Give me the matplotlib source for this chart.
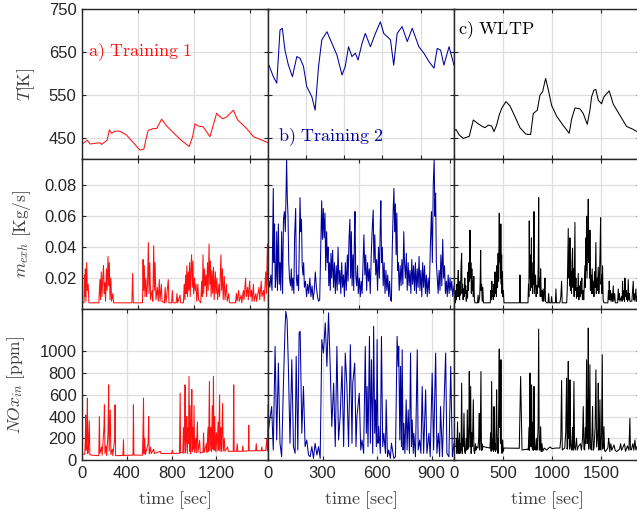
import numpy as np
import matplotlib
matplotlib.use('Agg')
import matplotlib.pyplot as plt

plt.rcParams['font.family'] = ['Liberation Sans', 'DejaVu Sans']
plt.rcParams['mathtext.fontset'] = 'cm'

# ---- exhaust temperature T [K], (time [s], value) ----
temp_train1 = [(0,435),(48,444),(71,435),(160,438),(175,434),(225,444),(244,468),(264,460),(294,465),
               (337,465),(397,456),(517,421),(552,423),(576,452),(591,467),(636,471),(666,471),(711,493),
               (755,477),(875,446),(957,429),(987,452),(1008,482),(1038,477),(1082,475),(1142,452),
               (1202,507),(1217,502),(1256,494),(1291,498),(1351,514),(1387,492),(1470,471),(1530,452),
               (1588,446),(1660,438)]
temp_train2 = [(0,612),(5,619),(28,592),(46,577),(63,701),(75,705),(89,654),(107,619),(128,592),(151,639),
               (168,635),(186,616),(203,569),(230,545),(247,514),(265,616),(282,678),(309,697),(335,670),
               (361,643),(388,596),(405,616),(422,662),(440,639),(458,647),(472,631),(493,670),(510,693),
               (537,662),(563,693),(589,720),(607,693),(642,678),(659,619),(677,693),(703,709),(730,674),
               (756,705),(791,662),(817,647),(844,627),(870,612),(887,658),(905,654),(922,619),(949,662),
               (975,619)]
temp_wltp = [(0,465),(20,469),(54,456),(95,448),(156,453),(197,491),(248,482),(282,477),(316,473),(350,479),
             (384,477),(408,464),(435,479),(462,503),(486,518),(530,534),(571,524),(622,499),(673,473),
             (734,458),(782,457),(809,506),(850,514),(877,549),(904,557),(935,588),(962,562),(996,525),
             (1047,500),(1115,478),(1176,460),(1200,493),(1234,519),(1285,517),(1319,506),(1360,481),
             (1387,514),(1404,545),(1428,561),(1448,562),(1472,537),(1506,529),(1530,545),(1584,559),
             (1625,528),(1693,502),(1761,476),(1829,469),(1867,464)]

# ---- exhaust mass flow m_exh [kg/s] ----
mexh_train1 = [(0,.004),(18,.004),(22,.022),(26,.008),(30,.026),(35,.005),(42,.030),(48,.012),(55,.016),(62,.004),
               (150,.004),(155,.012),(160,.019),(165,.006),(172,.024),(178,.008),(186,.021),(192,.028),(198,.010),
               (204,.017),(210,.005),(218,.026),(224,.012),(232,.034),(238,.015),(244,.030),(250,.006),(258,.020),
               (264,.005),(275,.010),(282,.004),(445,.004),(452,.023),(458,.004),
               (540,.004),(545,.032),(550,.012),(556,.028),(562,.008),(570,.020),(576,.008),(585,.016),(592,.043),
               (598,.010),(605,.030),(612,.006),(625,.012),(632,.005),(640,.041),(646,.012),(652,.030),(660,.006),
               (672,.014),(680,.005),(690,.019),(696,.005),(708,.016),(714,.005),
               (735,.004),(742,.014),(750,.004),(770,.019),(776,.004),(800,.004),(806,.012),(812,.004),(840,.004),
               (848,.010),(854,.004),(875,.009),(880,.004),
               (905,.004),(912,.016),(918,.006),(925,.022),(930,.010),(936,.028),(942,.008),(948,.024),(954,.012),
               (960,.030),(966,.008),(972,.026),(978,.035),(984,.014),(990,.031),(996,.010),(1004,.020),(1010,.012),
               (1018,.016),(1024,.005),(1034,.016),(1040,.006),
               (1060,.004),(1068,.018),(1074,.008),(1080,.035),(1086,.010),(1092,.026),(1098,.015),(1106,.022),
               (1112,.008),(1120,.030),(1126,.012),(1134,.042),(1140,.016),(1146,.031),(1152,.008),(1160,.025),
               (1166,.010),(1174,.027),(1180,.006),(1190,.024),(1196,.010),(1204,.020),(1210,.006),(1222,.016),
               (1228,.008),(1240,.035),(1246,.012),(1254,.026),(1260,.006),(1270,.021),(1276,.006),(1290,.016),
               (1296,.005),(1310,.010),(1316,.004),
               (1370,.004),(1378,.010),(1384,.005),(1398,.012),(1404,.005),(1420,.009),(1426,.004),(1440,.012),
               (1446,.006),(1460,.020),(1466,.008),(1478,.014),(1484,.006),(1496,.018),(1502,.008),(1512,.012),
               (1518,.005),(1530,.016),(1536,.005),(1552,.010),(1558,.005),(1580,.014),(1586,.006),(1600,.018),
               (1606,.008),(1620,.012),(1626,.005),(1640,.024),(1646,.010),(1655,.042),(1660,.015)]
mexh_train2 = [(0,.020),(5,.018),(10,.014),(16,.022),(22,.012),(25,.040),(29,.078),(33,.030),(36,.055),(40,.014),
               (44,.020),(48,.050),(52,.012),(57,.055),(62,.016),(66,.030),(70,.012),(75,.050),(80,.010),(85,.058),
               (90,.063),(95,.050),(100,.080),(102,.097),(106,.072),(110,.060),(114,.030),(118,.020),(124,.015),
               (128,.026),(132,.012),(136,.020),(142,.010),(146,.046),(152,.065),(156,.020),(160,.015),(164,.022),
               (168,.012),(172,.040),(176,.072),(180,.050),(184,.058),(188,.028),(192,.022),(196,.030),(200,.014),
               (206,.018),(212,.008),(218,.016),(224,.010),(230,.020),(236,.008),(242,.015),(248,.006),(254,.012),
               (260,.024),(266,.014),(272,.008),(278,.005),(284,.006),
               (290,.040),(295,.070),(299,.045),(304,.065),(308,.046),(313,.062),(317,.025),(322,.050),(326,.030),
               (330,.040),(334,.015),(338,.030),(342,.012),(346,.036),(350,.020),(355,.038),(360,.014),(365,.030),
               (370,.010),(375,.028),(380,.012),(385,.040),(390,.016),(395,.025),(400,.010),(405,.030),(410,.014),
               (415,.022),(420,.008),(425,.030),(430,.012),(436,.035),(440,.018),(445,.045),(450,.058),(454,.020),
               (458,.050),(462,.015),(467,.035),(471,.012),(475,.048),(478,.063),(482,.022),(487,.015),(492,.028),
               (496,.010),(502,.020),(507,.008),(512,.018),(517,.010),(522,.030),(527,.048),(532,.022),(537,.035),
               (542,.012),(547,.030),(552,.018),(557,.026),(562,.010),(567,.034),(572,.050),(578,.064),(582,.030),
               (587,.048),(592,.022),(597,.032),(602,.012),(607,.040),(612,.020),(617,.055),(620,.070),(624,.030),
               (628,.040),(633,.015),(638,.030),(643,.010),(648,.025),(653,.012),(658,.022),(663,.008),(668,.018),
               (673,.006),(678,.005),(683,.040),(688,.065),(692,.078),(696,.050),(700,.068),(704,.035),(708,.062),
               (712,.025),(716,.030),(721,.012),(726,.028),(731,.015),(736,.032),(741,.016),(746,.050),(750,.030),
               (755,.020),(760,.036),(765,.012),(770,.030),(775,.015),(780,.025),(785,.010),(790,.032),(795,.016),
               (800,.028),(805,.012),(810,.030),(815,.010),(820,.026),(825,.014),(830,.034),(835,.012),(840,.025),
               (845,.008),(850,.030),(855,.014),(860,.028),(865,.010),(870,.022),(875,.008),(880,.020),(886,.010),
               (892,.040),(898,.063),(903,.030),(908,.080),(913,.097),(917,.060),(921,.075),(925,.030),(930,.020),
               (935,.010),(940,.025),(945,.012),(950,.035),(955,.015),(960,.045),(965,.020),(970,.028),(975,.010),
               (980,.018),(985,.008),(990,.022),(995,.010),(1000,.020),(1005,.012),(1010,.018),(1015,.008),
               (1022,.015)]
mexh_wltp = [(0,.004),(15,.004),(20,.012),(25,.006),(30,.016),(35,.008),(40,.020),(44,.025),(48,.008),(52,.014),
             (57,.006),(62,.018),(66,.009),(72,.028),(78,.036),(82,.010),(88,.016),(93,.006),(98,.013),(104,.008),
             (110,.020),(115,.010),(120,.015),(125,.005),(132,.012),(138,.007),(143,.024),(148,.012),(153,.030),
             (158,.018),(163,.051),(168,.020),(172,.030),(177,.010),(182,.026),(187,.012),(192,.018),(197,.008),
             (202,.021),(208,.006),(214,.004),(240,.004),(246,.009),(252,.004),(262,.008),(268,.020),(272,.038),
             (276,.012),(282,.016),(288,.005),(294,.014),(300,.004),
             (370,.004),(376,.012),(381,.006),(386,.018),(391,.008),(396,.012),(401,.006),(407,.016),(412,.008),
             (418,.024),(423,.010),(428,.016),(433,.008),(438,.028),(444,.014),(450,.036),(455,.018),(459,.044),
             (462,.062),(466,.030),(470,.050),(474,.020),(478,.055),(482,.016),(486,.035),(490,.010),(494,.024),
             (498,.008),(504,.012),(510,.004),(668,.004),(673,.022),(678,.004),
             (755,.004),(760,.016),(764,.008),(768,.057),(772,.020),(776,.035),(780,.012),(786,.025),(790,.046),
             (794,.014),(798,.022),(802,.010),(808,.030),(812,.016),(816,.063),(820,.010),(826,.016),(832,.022),
             (838,.008),(844,.015),(850,.010),(856,.018),(860,.030),(864,.072),(868,.014),(874,.020),(880,.008),
             (884,.026),(890,.008),(896,.012),(902,.005),(910,.013),(916,.005),(922,.010),(928,.020),(934,.005),
             (945,.004),(960,.004),(966,.010),(972,.004),(990,.004),(996,.008),(1002,.004),(1035,.004),(1040,.013),
             (1046,.004),(1080,.004),(1090,.008),(1098,.018),(1104,.004),
             (1150,.004),(1156,.013),(1160,.030),(1166,.052),(1170,.020),(1176,.035),(1180,.015),(1183,.046),
             (1188,.012),(1194,.024),(1199,.010),(1204,.030),(1210,.039),(1214,.014),(1220,.026),(1226,.008),
             (1230,.030),(1234,.056),(1238,.012),(1244,.020),(1250,.007),(1256,.014),(1262,.008),(1268,.023),
             (1274,.006),(1280,.015),(1286,.008),(1292,.018),(1298,.010),(1304,.020),(1310,.006),(1318,.012),
             (1324,.006),(1330,.018),(1336,.028),(1340,.014),(1346,.046),(1350,.025),(1353,.060),(1357,.020),
             (1362,.035),(1366,.048),(1370,.071),(1374,.030),(1380,.040),(1384,.020),(1387,.051),(1392,.012),
             (1398,.022),(1404,.010),(1410,.026),(1416,.010),(1422,.018),(1428,.008),(1434,.024),(1440,.014),
             (1448,.043),(1452,.010),(1458,.020),(1464,.012),(1472,.027),(1478,.010),(1484,.020),(1490,.036),
             (1496,.059),(1500,.016),(1506,.022),(1510,.010),(1516,.028),(1522,.006),(1530,.004),
             (1570,.004),(1576,.012),(1580,.006),(1584,.018),(1590,.006),(1596,.012),(1602,.005),(1610,.010),
             (1616,.005),(1625,.015),(1630,.005),(1640,.010),(1646,.004),(1670,.004),(1676,.013),(1682,.006),
             (1688,.010),(1693,.005),(1710,.008),(1716,.005),(1720,.018),(1726,.006),(1734,.012),(1740,.005),
             (1744,.020),(1750,.008),(1756,.012),(1761,.006),(1766,.010),(1772,.005),(1778,.019),(1784,.006),
             (1790,.010),(1795,.005),(1815,.005),(1822,.012),(1829,.018),(1834,.006),(1840,.010),(1846,.005),
             (1856,.013),(1862,.005),(1870,.008)]

# ---- engine-out NOx [ppm] ----
nox_train1 = [(0,55),(25,52),(30,200),(33,415),(37,90),(44,250),(48,570),(52,60),(58,150),(65,360),(70,50),(80,45),
              (150,40),(155,400),(160,60),(175,120),(180,45),(196,300),(200,508),(205,60),(214,130),(220,40),
              (232,250),(238,692),(242,80),(248,300),(252,460),(258,50),(270,100),(275,40),(292,200),(295,508),
              (300,40),(365,42),(370,185),(374,42),(455,45),(459,508),(463,45),
              (540,45),(545,300),(549,570),(553,60),(560,200),(565,50),(590,150),(595,400),(600,55),(612,120),
              (618,60),(640,100),(645,60),(700,80),(705,60),
              (800,60),(806,90),(812,60),(870,62),(876,615),(880,65),(900,70),(905,300),(910,60),(916,250),
              (920,692),(924,70),(930,200),(935,400),(940,60),(946,300),(950,150),(955,770),(960,80),(965,500),
              (970,60),(975,250),(980,650),(985,80),(990,300),(995,100),(1000,500),(1005,70),(1015,200),(1020,65),
              (1030,350),(1035,70),(1050,180),(1055,65),
              (1080,70),(1085,250),(1090,70),(1110,150),(1115,70),(1125,300),(1130,80),(1137,723),(1142,90),
              (1150,300),(1155,80),(1163,500),(1168,100),(1173,770),(1178,90),(1185,400),(1190,80),(1200,250),
              (1205,80),(1215,350),(1220,90),(1228,600),(1232,80),(1240,300),(1245,80),(1255,520),(1260,80),
              (1270,200),(1275,80),(1300,120),(1305,80),(1350,80),(1354,692),(1358,80),(1380,80),(1385,150),
              (1390,80),(1430,80),(1435,130),(1440,80),(1485,85),(1488,320),(1492,85),(1550,85),(1555,150),
              (1560,85),(1600,85),(1605,120),(1610,85),(1640,88),(1650,200),(1655,85),(1660,508)]
nox_train2 = [(0,250),(20,492),(29,92),(39,1046),(48,184),(57,892),(66,154),(75,30),(85,707),(94,1231),(98,1369),
              (105,1292),(112,862),(121,154),(131,923),(140,123),(149,61),(155,954),(164,92),(171,1169),(177,1185),
              (186,246),(195,677),(204,123),(213,184),(223,46),(232,30),(241,123),(250,15),(259,154),(269,46),
              (278,123),(287,15),(296,1108),(305,985),(315,1262),(324,862),(333,1354),(342,862),(351,307),
              (361,707),(370,123),(379,1046),(388,184),(397,400),(407,862),(416,123),(425,985),(434,677),
              (443,123),(453,1061),(462,154),(466,707),(477,892),(484,123),(489,400),(502,615),(510,92),(517,184),
              (526,61),(535,1046),(541,246),(545,677),(550,123),(558,1138),(563,154),(569,923),(576,61),(581,1231),
              (587,246),(591,554),(596,123),(600,1108),(605,154),(609,307),(618,61),(624,1138),(631,123),(637,246),
              (646,61),(650,554),(657,30),(664,92),(673,15),(679,154),(692,15),(701,30),(710,1138),(716,862),
              (719,1046),(725,184),(729,862),(734,123),(738,1015),(743,92),(747,338),(753,61),(760,554),(765,92),
              (771,461),(778,61),(784,985),(789,123),(793,369),(799,61),(802,246),(811,30),(821,1015),(826,92),
              (834,184),(841,61),(848,677),(856,61),(867,646),(874,61),(885,246),(892,30),(903,800),(911,92),
              (922,985),(929,61),(937,246),(944,30),(949,492),(959,30),(977,985),(984,61),(995,30),(1005,862),
              (1014,30),(1023,154)]
nox_wltp = [(0,130),(20,123),(25,200),(30,60),(36,350),(40,90),(44,184),(50,60),(56,250),(61,61),(68,150),(72,90),
            (78,708),(84,60),(90,200),(95,123),(102,430),(108,80),(116,61),(124,200),(130,90),(136,461),(141,100),
            (146,123),(151,300),(156,815),(162,120),(166,400),(170,677),(175,60),(180,250),(184,123),(190,200),
            (197,554),(203,90),(211,61),(218,150),(224,90),(231,123),(245,110),(252,200),(258,430),(262,92),
            (268,200),(275,815),(280,90),(285,150),(289,92),(294,130),(299,123),
            (367,110),(374,250),(379,80),(384,723),(390,92),(398,200),(403,80),(408,492),(413,92),(418,150),
            (424,80),(430,300),(435,646),(440,90),(445,200),(449,61),(455,400),(462,1022),(466,300),(469,554),
            (474,150),(479,923),(484,100),(490,61),(496,184),(502,80),(510,110),
            (666,108),(680,769),(694,92),(750,100),(758,92),(765,300),(770,90),(775,800),(780,200),(785,123),
            (792,692),(797,120),(802,92),(808,350),(812,90),(816,677),(822,100),(830,92),(840,200),(846,90),
            (850,123),(858,300),(864,1206),(870,92),(877,92),(884,307),(890,77),(898,150),(905,80),(920,110),
            (945,92),(979,120),(1000,105),(1040,110),
            (1081,110),(1090,200),(1098,732),(1105,92),(1115,100),(1130,110),(1140,250),(1149,754),(1154,100),
            (1160,123),(1166,908),(1170,200),(1176,554),(1180,100),(1183,738),(1190,150),(1200,92),(1210,300),
            (1216,90),(1224,723),(1230,120),(1238,92),(1250,200),(1258,90),(1268,123),(1290,150),(1300,90),
            (1312,200),(1319,492),(1326,100),(1333,92),(1340,300),(1346,150),(1353,923),(1358,200),(1363,554),
            (1366,150),(1370,1215),(1375,100),(1380,246),(1387,877),(1392,120),(1401,92),(1408,250),(1414,492),
            (1420,90),(1428,108),(1440,300),(1448,831),(1455,120),(1462,184),(1468,300),(1472,708),(1478,90),
            (1482,123),(1489,554),(1494,100),(1499,92),(1506,250),(1513,969),(1518,100),(1523,123),(1530,307),
            (1536,90),(1544,77),
            (1570,110),(1578,200),(1584,154),(1590,77),(1600,150),(1610,90),(1632,138),(1645,90),(1659,77),
            (1690,100),(1700,150),(1710,90),(1727,123),(1740,150),(1750,80),(1770,130),(1785,90),(1795,384),
            (1800,100),(1809,92),(1825,150),(1835,90),(1846,184),(1856,92),(1867,123)]

cycle_names = [r'$\mathrm{a)\ Training\ 1}$', r'$\mathrm{b)\ Training\ 2}$', r'$\mathrm{c)\ WLTP}$']
cycle_colors = ['#ff1010', '#00009c', '#000000']
ylabels = [r'$T[\mathrm{K}]$', r'$m_{exh}\ [\mathrm{Kg/s}]$', r'$NOx_{in}\ [\mathrm{ppm}]$']

rows = [[temp_train1, temp_train2, temp_wltp],
        [mexh_train1, mexh_train2, mexh_wltp],
        [nox_train1, nox_train2, nox_wltp]]

ylims = [(400, 750), (0, 0.097), (0, 1390)]
yticks = [[450, 550, 650, 750], [0.02, 0.04, 0.06, 0.08], [0, 200, 400, 600, 800, 1000]]
xlims = [[1660, 975, 1898], [1660, 1022, 1898], [1660, 1023, 1898]]
xticks = [[[0, 500, 1000, 1500], [0, 200, 400, 600, 800], [0, 500, 1000, 1500]],
          [[0, 500, 1000, 1500], [0, 500, 1000], [0, 500, 1000, 1500]],
          [[0, 400, 800, 1200], [0, 300, 600, 900], [0, 500, 1000, 1500]]]

W, H = 637, 516
col_left = [82, 268, 454]
row_top = [9, 159, 309]
row_h = [150, 150, 151]
ax_w = 186

title_pos = [(0.03, 0.713), (0.054, 0.147), (0.02, 0.86)]
ylab_x = [-0.242, -0.263, -0.296]

fig = plt.figure(figsize=(W / 100, H / 100), dpi=100)

for r in range(3):
    for c in range(3):
        rect = [col_left[c] / W, 1 - (row_top[r] + row_h[r]) / H, ax_w / W, row_h[r] / H]
        ax = fig.add_axes(rect)
        d = np.array(rows[r][c], dtype=float)
        ax.plot(d[:, 0], d[:, 1], color=cycle_colors[c], lw=0.75)
        ax.set_xlim(0, xlims[r][c])
        ax.set_ylim(*ylims[r])
        ax.set_xticks(xticks[r][c])
        ax.set_yticks(yticks[r])
        ax.set_axisbelow(True)
        ax.grid(True, color='#dedede', lw=0.9)
        ax.tick_params(direction='in', length=3, top=True, right=True, labelsize=12,
                       colors='#262626', labelleft=(c == 0), labelbottom=(r == 2), pad=4)
        for s in ax.spines.values():
            s.set_color('#262626')
            s.set_linewidth(1.0)
        if c == 0:
            ax.set_ylabel(ylabels[r], fontsize=12.5, color='#404040')
            ax.yaxis.set_label_coords(ylab_x[r], 0.5)
        if r == 2:
            ax.set_xlabel(r'$\mathrm{time\ [sec]}$', fontsize=13, color='#404040', labelpad=6)
        if r == 0:
            tx, ty = title_pos[c]
            ax.text(tx, ty, cycle_names[c], transform=ax.transAxes, color=cycle_colors[c],
                    fontsize=13, va='center', ha='left')

fig.savefig('out.png', dpi=100)
